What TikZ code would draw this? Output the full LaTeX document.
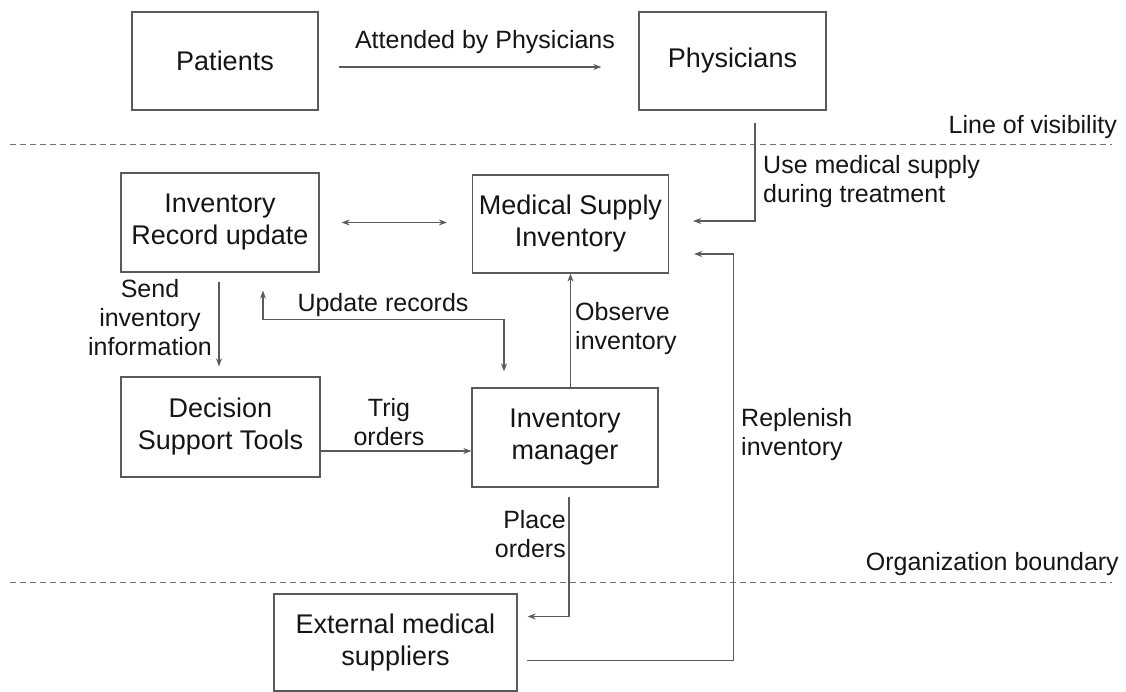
\documentclass[tikz,border=0pt]{standalone}
\usepackage{fontspec}
\setmainfont{Liberation Sans}
\usetikzlibrary{calc,arrows.meta}
\definecolor{ln}{HTML}{5A5A5A}
\definecolor{tx}{HTML}{151515}
\tikzset{
  box/.style={draw=ln,line width=1.3pt,inner sep=0pt,align=center,text=tx,font=\fontsize{27}{32}\selectfont},
  lbl/.style={inner sep=0pt,text=tx,font=\fontsize{25}{29}\selectfont},
  tip/.tip={Stealth[length=8pt,width=6pt]},
  arr/.style={draw=ln,line width=1.1pt,-tip},
  dbl/.style={draw=ln,line width=1.1pt,tip-tip},
  bound/.style={draw=ln!85,line width=1pt,dash pattern=on 6pt off 4pt}
}
\begin{document}
\begin{tikzpicture}[x=1pt,y=-1pt]
\useasboundingbox (0,0) rectangle (1126,692);
% boxes
\node[box,minimum width=186pt,minimum height=98pt] (pat) at (225,61) {Patients};
\node[box,minimum width=187pt,minimum height=98pt] (phy) at (732.5,61) {Physicians};
\node[box,minimum width=198pt,minimum height=99pt] (iru) at (220,222.5) {Inventory\\Record update};
\node[box,minimum width=196pt,minimum height=98pt] (msi) at (570.5,224) {Medical Supply\\Inventory};
\node[box,minimum width=199pt,minimum height=100pt] (dst) at (220.5,427) {Decision\\Support Tools};
\node[box,minimum width=186pt,minimum height=99pt] (im) at (565,437.5) {Inventory\\manager};
\node[box,minimum width=243pt,minimum height=97pt] (ems) at (395.5,642.5) {External medical\\suppliers};
% boundaries
\draw[bound] (10,145) -- (1112,145);
\draw[bound] (10,582) -- (1112,582);
\node[lbl,anchor=east] (lov) at (1117,127) {Line of visibility};
\node[lbl,anchor=east] (ob) at (1119,564) {Organization boundary};
% connectors
\draw[arr] ($(pat.east)+(20,6)$) -- ($(phy.west)+(-37,6)$);
\node[lbl] (l1) at (485,42) {Attended by Physicians};
\draw[arr] ($(phy.south)+(22.5,12)$) |- ($(msi.east)+(24,-3)$);
\node[lbl,anchor=west,align=left] (l2) at (763,182) {Use medical supply\\during treatment};
\draw[dbl] ($(iru.east)+(22,0)$) -- ($(iru.east -| msi.west)+(-25,0)$);
\draw[arr] ($(iru.south)+(-1,9)$) -- ($(dst.north)+(-1.5,-10)$);
\node[lbl,align=center] (l3) at (150,318) {Send\\inventory\\information};
\draw[dbl] ($(iru.south)+(43,18)$) -- ++(0,29) -| ($(im.north)+(-61,-16)$);
\node[lbl] (l4) at (383,305) {Update records};
\draw[arr] (msi.south |- im.north) -- (msi.south);
\node[lbl,anchor=west,align=left] (l5) at (575,329) {Observe\\inventory};
\coordinate (t1) at ($(dst.east)+(0,24)$);
\draw[arr] (t1) -- (t1 -| im.west);
\node[lbl,align=center] (l6) at (389,422) {Trig\\orders};
\draw[arr] ($(im.south)+(4,9)$) |- ($(ems.east)+(10,-26)$);
\node[lbl,anchor=east,align=right] (l7) at (566,534) {Place\\orders};
\draw[arr] ($(ems.east)+(9,18)$) -- ++(207,0) |- ($(msi.east)+(25,30)$);
\node[lbl,anchor=west,align=left] (l8) at (741,435) {Replenish\\inventory};
\end{tikzpicture}
\end{document}
